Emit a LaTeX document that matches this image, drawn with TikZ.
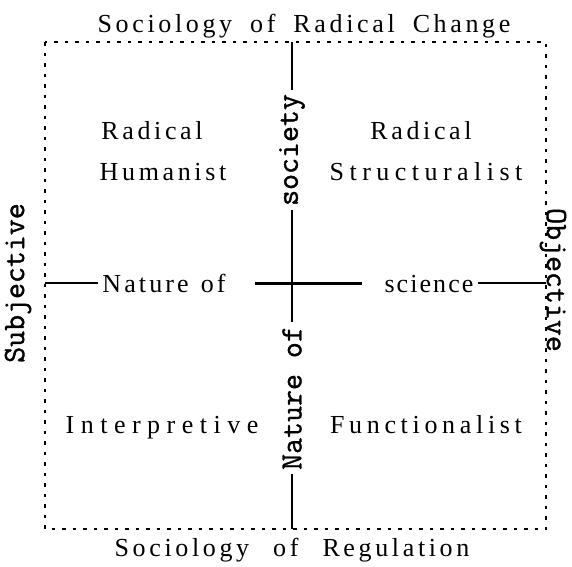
\documentclass[tikz,border=0pt]{standalone}
\usepackage{fontspec}
\setmainfont{Liberation Serif}
\newfontfamily\monoface[FakeBold=1.2]{Latin Modern Mono}
\newcommand\LS[1]{\addfontfeature{LetterSpace=#1}}
\tikzset{
  ser/.style={inner sep=2pt,font=\fontsize{26}{30}\selectfont},
  mono/.style={inner sep=4pt,font=\fontsize{31}{34}\monoface},
  axis/.style={line width=1.8pt},
  cross/.style={line width=3pt},
  frame/.style={line width=1.8pt,dash pattern=on 3.5pt off 7pt},
}
\begin{document}
\begin{tikzpicture}[x=1pt,y=-1pt]
\useasboundingbox (0,0) rectangle (572,566);
% frame corners
\coordinate (TL) at (45,42);
\coordinate (BR) at (546,529);
\draw[frame] (TL) rectangle (BR);
\coordinate (vT) at (292,42);
\coordinate (vB) at (292,529);
\coordinate (hL) at (45,283);
\coordinate (hR) at (546,283);
\coordinate (cL) at (255,283);
\coordinate (cR) at (362,283);
% titles
\node[ser,anchor=base] (top) at (304,32) {\LS{14}Sociology\hskip 18pt of\hskip 18pt Radical\hskip 18pt Change};
\node[ser,anchor=base] (bot) at (292,556) {\LS{14}Sociology\hskip 24pt of\hskip 24pt Regulation};
% quadrant labels
\node[ser,anchor=base] (rh1) at (152,139) {\LS{14}Radical};
\node[ser,anchor=base] (rh2) at (163,180) {\LS{14}Humanist};
\node[ser,anchor=base] (rs1) at (421,139) {\LS{14}Radical};
\node[ser,anchor=base] (rs2) at (426,180) {\LS{21}Structuralist};
\node[ser,anchor=base] (int) at (162,433) {\LS{25}Interpretive};
\node[ser,anchor=base] (fun) at (426,433) {\LS{18}Functionalist};
% axis labels
\node[ser,anchor=base,inner sep=4pt] (nh) at (164,292) {\LS{12}Nature\hskip 12pt of};
\node[ser,anchor=base,inner sep=4pt] (sc) at (429,292) {\LS{8}science};
\node[mono,rotate=90] (soc) at (292,150) {society};
\node[mono,rotate=90] (nv) at (292,398) {Nature of};
\node[mono,rotate=90] (subj) at (18,283) {Subjective};
\node[mono,rotate=-90,inner sep=0pt] (obj) at (553,280) {Objective};
% axes
\draw[axis] (vT) -- (soc.east);
\draw[axis] (soc.west) -- (nv.east);
\draw[axis] (nv.west) -- (vB);
\draw[axis] (hL) -- (nh.west |- hL);
\draw[axis] (sc.east |- hR) -- (hR);
\draw[cross] (cL) -- (cR);
\end{tikzpicture}
\end{document}
